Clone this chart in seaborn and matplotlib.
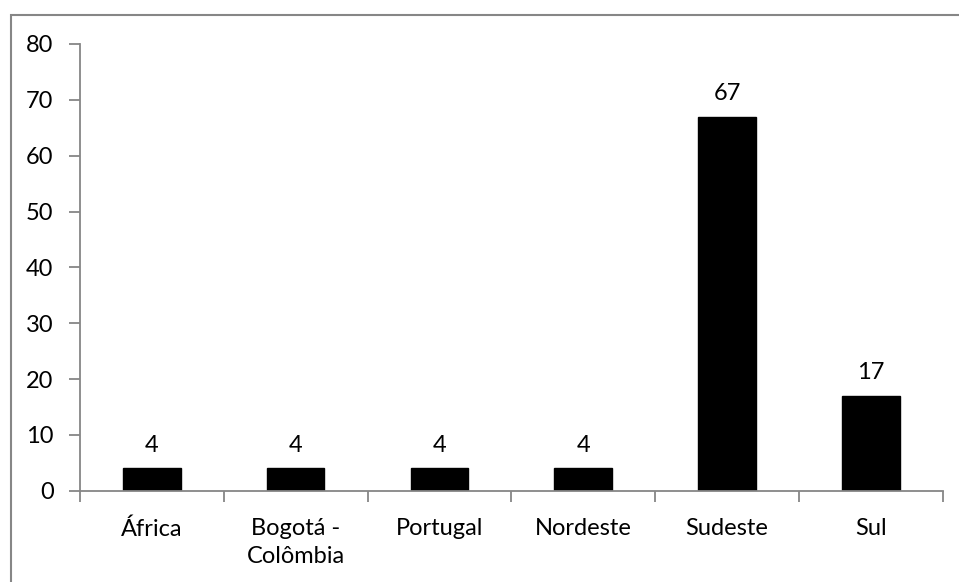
import pandas as pd
import matplotlib.pyplot as plt
import seaborn as sns
from matplotlib.patches import Rectangle

# Dados do gráfico
regioes = ['África', 'Bogotá -\nColômbia', 'Portugal', 'Nordeste', 'Sudeste', 'Sul']
valores = [4, 4, 4, 4, 67, 17]
ticks_y = [0, 10, 20, 30, 40, 50, 60, 70, 80]

df = pd.DataFrame({'regiao': regioes, 'valor': valores})

sns.set_theme(style="white")
plt.rcParams['font.family'] = ['Lato', 'DejaVu Sans']

fig = plt.figure(figsize=(9.59, 5.82), dpi=100)
ax = fig.add_axes([0.0834, 0.1569, 0.8996, 0.7675])

sns.barplot(data=df, x='regiao', y='valor', color='black', width=0.4,
            edgecolor='black', saturation=1, ax=ax)

cinza = '#868686'
ax.set_ylim(0, 80)
ax.set_xlim(-0.5, len(regioes) - 0.5)
ax.set_yticks(ticks_y)
ax.set_xlabel('')
ax.set_ylabel('')

for lado in ['top', 'right']:
    ax.spines[lado].set_visible(False)
for lado in ['left', 'bottom']:
    ax.spines[lado].set_color(cinza)
    ax.spines[lado].set_linewidth(1.3)

# marcas entre as categorias, como no Excel
ax.set_xticks([i - 0.5 for i in range(len(regioes) + 1)], minor=True)
ax.tick_params(axis='x', which='major', length=0, pad=20, labelsize=17, labelcolor='black')
ax.tick_params(axis='x', which='minor', length=8, width=1.3, color=cinza, direction='out', bottom=True)
ax.tick_params(axis='y', length=8, width=1.3, color=cinza, direction='out', left=True,
               pad=11, labelsize=17, labelcolor='black')
for t in ax.get_xticklabels():
    t.set_linespacing(1.4)

ax.bar_label(ax.containers[0], padding=9, fontsize=17, color='black')

# borda da área do gráfico
fig.patches.append(Rectangle((11 / 959, -0.01), 1.0, 1 - 15 / 582 + 0.01,
                             transform=fig.transFigure, fill=False,
                             edgecolor=cinza, linewidth=1.5))

fig.savefig('out.png', dpi=100)
